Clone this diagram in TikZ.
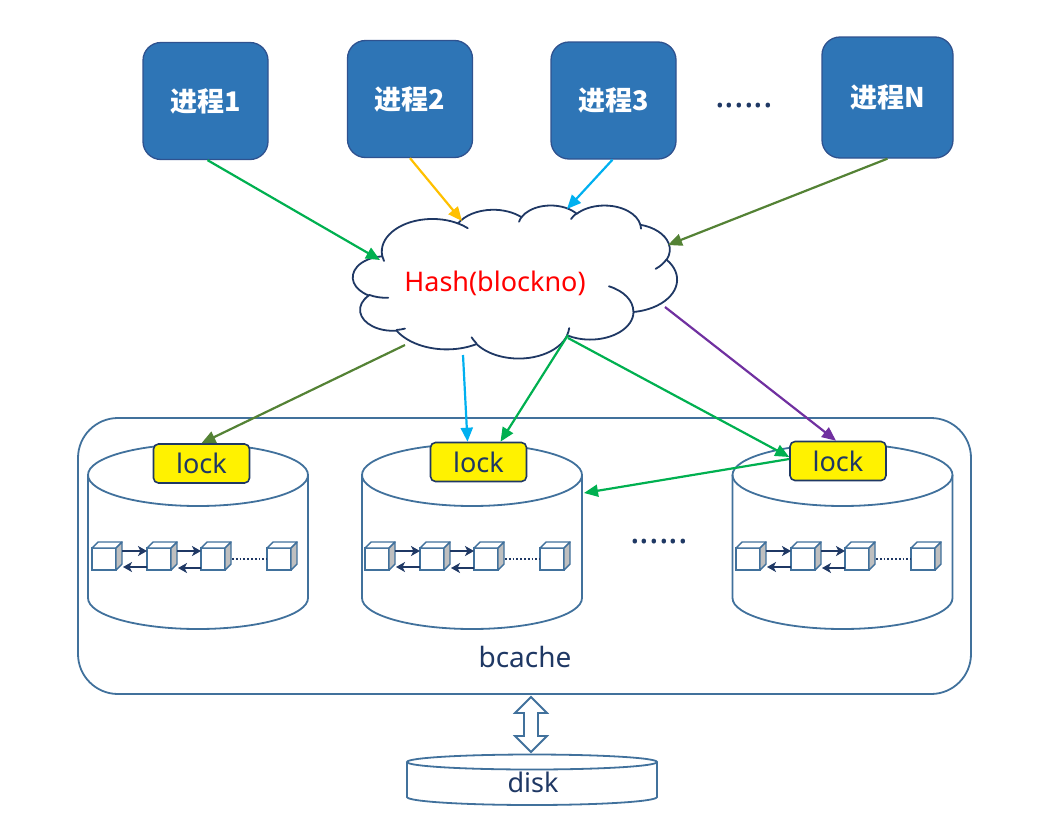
\documentclass[tikz,border=0pt]{standalone}
\usepackage{fontspec}
\setmainfont{Noto Sans}
\newfontfamily\cjk{Noto Sans CJK SC}
\usetikzlibrary{arrows.meta,calc}
\definecolor{boxfill}{HTML}{2E75B6}
\definecolor{boxline}{HTML}{2F528F}
\definecolor{steel}{HTML}{41719C}
\definecolor{navy}{HTML}{1F3864}
\definecolor{ggreen}{HTML}{00B050}
\definecolor{olivec}{HTML}{548235}
\definecolor{cyanc}{HTML}{00B0F0}
\definecolor{goldc}{HTML}{FFC000}
\definecolor{purp}{HTML}{7030A0}
\definecolor{sidegray}{HTML}{BFBFBF}
% DrawingML-style arc: radii, visual start angle, sweep
\newcommand\ooarc[4]{arc[start angle={atan2((#1)*sin(#3),(#2)*cos(#3))},
  delta angle={mod(atan2((#1)*sin((#3)+(#4)),(#2)*cos((#3)+(#4)))-atan2((#1)*sin(#3),(#2)*cos(#3))+720,360)},
  x radius=#1, y radius=#2]}
\tikzset{
  proc/.style={draw=boxline, line width=1.3pt, fill=boxfill, rounded corners=18pt,
    minimum width=125pt, minimum height=117pt, inner sep=0pt, text=white,
    font=\cjk\bfseries\fontsize{27}{30}\selectfont},
  lockbox/.style={draw=navy, line width=1.6pt, fill=yellow, rounded corners=5pt,
    minimum width=96pt, minimum height=39pt, inner sep=0pt, text=navy,
    font=\fontsize{27}{30}\selectfont},
  cube/.style={draw=steel, line width=1.4pt, fill=white, minimum width=24pt,
    minimum height=22pt, inner sep=0pt, outer sep=0pt},
  cylline/.style={draw=steel, line width=1.8pt},
  conn/.style={line width=2.2pt, -{Triangle[length=14pt,width=12pt]}},
  carr/.style={draw=navy, line width=2pt, -{Stealth[length=9pt,width=10pt,inset=2.5pt]}},
  lbl/.style={text=navy, font=\fontsize{27}{30}\selectfont, inner sep=0pt},
  dots/.style={text=navy, font=\fontsize{36}{40}\selectfont\bfseries, inner sep=0pt},
  cloudline/.style={draw=navy, line width=1.8pt},
}
\begin{document}
\begin{tikzpicture}[x=1pt,y=-1pt]
\useasboundingbox (0,0) rectangle (1057,825);

% processes
\node[proc] (p1) at (205.5,101) {进程1};
\node[proc] (p2) at (410,99) {进程2};
\node[proc] (p3) at (613.5,100.5) {进程3};
\node[proc, minimum width=131pt, minimum height=121pt] (pn) at (887.5,97.5) {进程N};
\node[dots] (pdots) at (744,106) {......};

% cloud (drawn like an Office cloud)
\begin{scope}[shift={(353,205)}, x=0.075pt, y=-0.035417pt]
  \draw[cloudline, fill=white, line join=round] (390,1437)
    \ooarc{675.3}{919.0}{-190.4875}{123.7805}
    \ooarc{533.3}{726.7}{-144.1024}{89.9452}
    \ooarc{436.5}{594.5}{-145.8079}{99.7230}
    \ooarc{485.7}{659.5}{-130.9861}{117.2417}
    \ooarc{533.3}{727.3}{-78.7089}{109.0269}
    \ooarc{677.5}{922.0}{-46.2673}{130.2690}
    \ooarc{578.5}{786.7}{0.6250}{114.0333}
    \ooarc{675.2}{921.5}{22.4516}{115.1726}
    \ooarc{772.0}{1054.3}{66.2426}{75.7110}
    \ooarc{436.0}{591.8}{-274.9421}{146.7356}
    \ooarc{434.5}{594.5}{-246.8285}{152.5189} -- cycle;
  \draw[cloudline, line cap=round]
    (469.3,2617.7) \ooarc{434.5}{594.5}{86.7420}{26.4295}
    (692.8,3489.9) \ooarc{436.0}{591.8}{73.6105}{11.4475}
    (1647.8,3909.0) \ooarc{675.2}{921.5}{137.6242}{14.0811}
    (2882.7,3475.1) \ooarc{675.2}{921.5}{6.4533}{15.9984}
    (3412.9,2295.4) \ooarc{578.5}{786.7}{-70.2924}{70.9174}
    (4179.8,1535.4) \ooarc{533.3}{727.3}{30.3180}{27.7515}
    (3832.4,542.6) \ooarc{485.7}{659.5}{-13.7443}{14.8589}
    (2907.8,395.2) \ooarc{485.7}{659.5}{-149.1815}{18.1954}
    (2214.1,472.0) \ooarc{436.5}{594.5}{-163.4943}{17.6864}
    (1400.0,519.2) \ooarc{675.3}{919.0}{-66.7070}{12.3194}
    (412.7,1578.9) \ooarc{675.3}{919.0}{157.6544}{11.8582};
\end{scope}
\node[text=red, font=\fontsize{27}{30}\selectfont, inner sep=0pt] (hashtxt) at (495,283) {Hash(blockno)};

% bcache container
\node[draw=steel, line width=1.8pt, rounded corners=40pt, minimum width=893pt,
  minimum height=276pt, inner sep=0pt] (bc) at (524.5,556) {};
\node[lbl, font=\fontsize{28}{30}\selectfont] (bctxt) at (525,657) {bcache};

% cylinders
\foreach \cx/\k in {198/1,472/2,842.5/3}{
  \draw[cylline, fill=white] (\cx-110,475) -- (\cx-110,598)
     arc[start angle=180, end angle=0, x radius=110, y radius=31] -- (\cx+110,475);
  \draw[cylline] (\cx,475) ellipse [x radius=110, y radius=31];
}
\coordinate (cyl2r) at (584,493);

% cubes
\foreach \off/\k in {0/1,273/2,644/3}{
  \foreach \xx/\j in {104/1,159/2,213/3,279/4}{
    \node[cube] (c\k\j) at (\xx+\off,559) {};
    \draw[draw=steel, line width=1.4pt, fill=white, line join=round]
       (c\k\j.north west) -- ++(6,-6) -- ++(24,0) -- (c\k\j.north east) -- cycle;
    \draw[draw=steel, line width=1.4pt, fill=sidegray, line join=round]
       (c\k\j.north east) -- ++(6,-6) -- ++(0,22) -- (c\k\j.south east) -- cycle;
  }
  \draw[carr] ([xshift=6pt,yshift=8pt]c\k1.east) -- ([yshift=8pt]c\k2.west);
  \draw[carr] ([yshift=-8pt]c\k2.west) -- ([xshift=7pt,yshift=-8pt]c\k1.east);
  \draw[carr] ([xshift=6pt,yshift=8pt]c\k2.east) -- ([yshift=8pt]c\k3.west);
  \draw[carr] ([yshift=-9pt]c\k3.west) -- ([xshift=7pt,yshift=-9pt]c\k2.east);
  \draw[navy, line width=1.8pt, dotted] ([xshift=7pt]c\k3.east) -- (c\k4.west);
}
\node[dots] (cdots) at (659,542) {......};

% locks
\node[lockbox] (lock1) at (201.5,463.5) {lock};
\node[lockbox] (lock2) at (478.5,462) {lock};
\node[lockbox] (lock3) at (838,461) {lock};

% cloud contact points
\coordinate (h1) at (380,260);
\coordinate (h2) at (462,221);
\coordinate (h3) at (567,209);
\coordinate (h4) at (668,245);
\coordinate (o1) at (405,345);
\coordinate (o2) at (463,355);
\coordinate (o3) at (568,335);
\coordinate (o4) at (568,338);
\coordinate (o5) at (665,307);

% input arrows
\draw[conn, ggreen] ([xshift=2pt]p1.south) -- (h1);
\draw[conn, goldc] (p2.south) -- (h2);
\draw[conn, cyanc] ([xshift=-1pt]p3.south) -- (h3);
\draw[conn, olivec] (pn.south) -- (h4);

% output arrows
\draw[conn, olivec] (o1) -- (lock1.north);
\draw[conn, cyanc] (o2) -- ([xshift=-11pt]lock2.north);
\draw[conn, ggreen] (o3) -- ([xshift=22pt]lock2.north);
\draw[conn, ggreen] (o4) -- ([yshift=4pt]lock3.west);
\draw[conn, purp] (o5) -- ([xshift=-2pt]lock3.north);
\draw[conn, ggreen] ([yshift=2pt]lock3.west) -- (cyl2r);

% disk
\draw[cylline, fill=white] (407,762) -- (407,797)
   arc[start angle=180, end angle=0, x radius=125, y radius=8] -- (657,762);
\draw[cylline, fill=white] (532,762) ellipse [x radius=125, y radius=7.5];
\node[lbl] (disk) at (533,782) {disk};

% double arrow between bcache and disk
\draw[cylline, fill=white, line join=miter] (531,697) -- (547,713) -- (538,713) -- (538,736)
   -- (547,736) -- (531,752) -- (515,736) -- (524,736) -- (524,713) -- (515,713) -- cycle;
\end{tikzpicture}
\end{document}
